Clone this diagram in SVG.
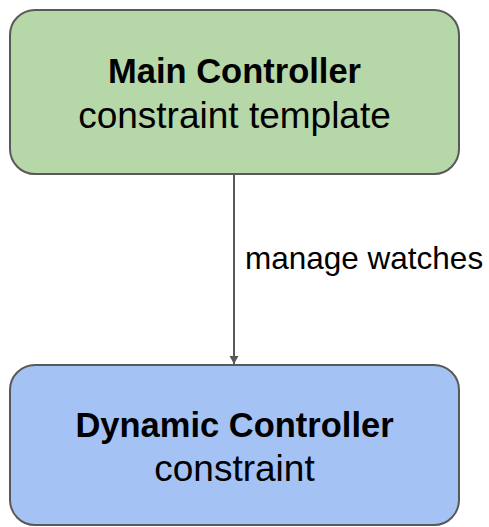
<svg xmlns="http://www.w3.org/2000/svg" width="489" height="527" viewBox="0 0 489 527">
  <style>
    .box { stroke: #595959; stroke-width: 2; }
    .title { font-family: "Liberation Sans", Arial, sans-serif; font-weight: bold; font-size: 34.5px; fill: #000; text-anchor: middle; }
    .sub { font-family: "Liberation Sans", Arial, sans-serif; font-size: 37px; fill: #000; text-anchor: middle; }
    .label { font-family: "Liberation Sans", Arial, sans-serif; font-size: 31.5px; fill: #000; }
    .edge { stroke: #595959; stroke-width: 2; fill: none; }
  </style>
  <defs>
    <marker id="arrow" markerWidth="10" markerHeight="12" refX="8" refY="6" orient="auto" markerUnits="userSpaceOnUse">
      <path d="M0,1.5 L8,6 L0,10.5 Z" fill="#595959"/>
    </marker>
  </defs>
  <g id="main-controller">
    <rect class="box" x="10" y="10" width="449" height="164" rx="25" ry="25" fill="#b6d7a8"/>
    <text class="title" x="234.5" y="83">Main Controller</text>
    <text class="sub" x="234.5" y="128">constraint template</text>
  </g>
  <g id="dynamic-controller">
    <rect class="box" x="10" y="365" width="449" height="160" rx="25" ry="25" fill="#a4c2f4"/>
    <text class="title" x="234.5" y="437">Dynamic Controller</text>
    <text class="sub" x="234.5" y="481">constraint</text>
  </g>
  <g id="connectors">
    <path class="edge" d="M234,175 L234,364" marker-end="url(#arrow)"/>
    <text class="label" x="245" y="269">manage watches</text>
  </g>
</svg>
